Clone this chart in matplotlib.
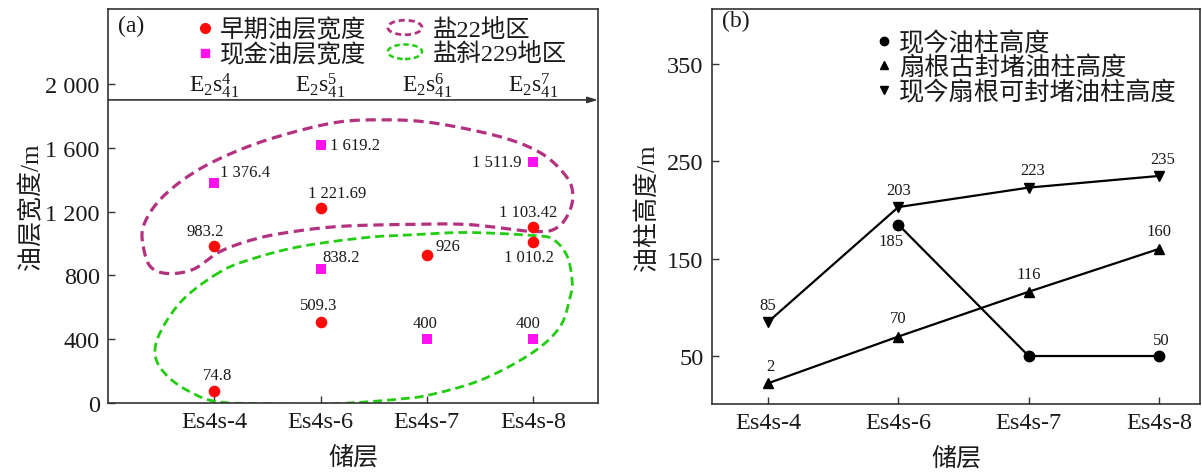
import numpy as np
import matplotlib
matplotlib.use("Agg")
import matplotlib.pyplot as plt
import matplotlib.patches as mpatches
from matplotlib.lines import Line2D
from matplotlib.legend_handler import HandlerPatch

plt.rcParams['font.family'] = ['Liberation Serif', 'Noto Sans CJK SC', 'DejaVu Sans']
plt.rcParams['mathtext.fontset'] = 'custom'
plt.rcParams['mathtext.rm'] = 'Liberation Serif'
plt.rcParams['mathtext.it'] = 'Liberation Serif:italic'
plt.rcParams['axes.unicode_minus'] = False

# ---------------- data ----------------
categories = ['Es4s-4', 'Es4s-6', 'Es4s-7', 'Es4s-8']
layer_labels = [r'E$_2$s$_{41}^{4}$', r'E$_2$s$_{41}^{5}$', r'E$_2$s$_{41}^{6}$', r'E$_2$s$_{41}^{7}$']

early_cat = ['Es4s-4', 'Es4s-4', 'Es4s-6', 'Es4s-6', 'Es4s-7', 'Es4s-8', 'Es4s-8']
early_width = [983.2, 74.8, 1221.69, 509.3, 926, 1103.42, 1010.2]

current_cat = ['Es4s-4', 'Es4s-6', 'Es4s-6', 'Es4s-7', 'Es4s-8', 'Es4s-8']
current_width = [1376.4, 1619.2, 838.2, 400, 1511.9, 400]

a_yticks = [0, 400, 800, 1200, 1600, 2000]

# approximate region outlines (category index, width)
yan22_x = [-0.668, -0.602, -0.442, -0.198, 0.056, 0.367, 0.687, 1.157, 1.750, 2.380, 3.001,
           3.227, 3.349, 3.368, 3.283, 3.067, 2.690, 2.060, 1.590, 1.119, 0.499, 0.028,
           -0.292, -0.536, -0.668]
yan22_y = [981, 856, 812, 838, 950, 1025, 1069, 1106, 1119, 1119, 1075,
           1100, 1213, 1338, 1444, 1569, 1669, 1756, 1775, 1756, 1650, 1525,
           1400, 1256, 1106]

yanxie229_x = [0.05, -0.292, -0.508, -0.555, -0.442, -0.226, 0.028, 0.499, 1.119, 1.750,
               2.060, 2.531, 3.001, 3.255, 3.349, 3.368, 3.321, 3.189, 3.001, 2.380,
               1.910, 1.439, 0.809, 0.339]
yanxie229_y = [820, 650, 444, 294, 169, 69, 8, -5, -5, 25,
               56, 150, 319, 481, 669, 756, 919, 1025, 1050, 1069,
               1056, 1038, 981, 900]

present_cat = ['Es4s-6', 'Es4s-7', 'Es4s-8']
present_h = [185, 50, 50]
present_lbl = ['185', '', '50']

paleo_h = [22, 70, 116, 160]
paleo_lbl = ['2', '70', '116', '160']

seal_h = [85, 203, 223, 235]
seal_lbl = ['85', '203', '223', '235']

b_yticks = [50, 150, 250, 350]

# ---------------- helpers ----------------
def fmt_num(v):
    s = str(v)
    if '.' in s:
        ip, dp = s.split('.')
    else:
        ip, dp = s, None
    if len(ip) > 3:
        ip = ip[:-3] + ' ' + ip[-3:]
    return ip if dp is None else ip + '.' + dp


def closed_spline(xs, ys, n=30):
    P = np.column_stack([xs, ys]).astype(float)
    if np.allclose(P[0], P[-1]):
        P = P[:-1]
    m = len(P)
    out = []
    t = np.linspace(0, 1, n, endpoint=False)[:, None]
    for i in range(m):
        p0, p1, p2, p3 = P[(i - 1) % m], P[i], P[(i + 1) % m], P[(i + 2) % m]
        seg = 0.5 * (2 * p1 + (-p0 + p2) * t + (2 * p0 - 5 * p1 + 4 * p2 - p3) * t ** 2
                     + (-p0 + 3 * p1 - 3 * p2 + p3) * t ** 3)
        out.append(seg)
    out = np.vstack(out)
    out = np.vstack([out, out[:1]])
    return out[:, 0], out[:, 1]


class HandlerEllipse(HandlerPatch):
    def create_artists(self, legend, orig_handle, xdescent, ydescent, width, height, fontsize, trans):
        center = (0.5 * width - xdescent, 0.5 * height - ydescent)
        p = mpatches.Ellipse(xy=center, width=width, height=height * 0.85)
        self.update_prop(p, orig_handle, legend)
        p.set_transform(trans)
        return [p]


TXT = '#1a1a1a'
SPINE = '#333333'
RED = '#ff0a0a'
MAG = '#ff10ee'
PURPLE = '#b3327f'
GREEN = '#22cc11'

fig = plt.figure(figsize=(12.02, 4.77), dpi=100)
axa = fig.add_axes([108 / 1202, 73 / 477, 490 / 1202, 394 / 477])
axb = fig.add_axes([712 / 1202, 72 / 477, 488 / 1202, 395 / 477])

for ax in (axa, axb):
    for s in ax.spines.values():
        s.set_color(SPINE)
        s.set_linewidth(1.2)
    ax.tick_params(direction='in', length=5, width=1.0, color=SPINE, labelsize=17.5,
                   labelcolor=TXT, pad=6)

# ---------------- panel (a) ----------------
xi = {c: i for i, c in enumerate(categories)}
ex = [xi[c] for c in early_cat]
cx = [xi[c] for c in current_cat]

dash = (0, (3.2, 1.8))
ox, oy = closed_spline(yan22_x, yan22_y)
axa.plot(ox, oy, color=PURPLE, lw=2.3, linestyle=dash, zorder=2)
ox, oy = closed_spline(yanxie229_x, yanxie229_y)
axa.plot(ox, oy, color=GREEN, lw=2.0, linestyle=dash, zorder=2)

axa.scatter(ex, early_width, s=70, marker='o', color=RED, zorder=3, linewidths=0)
axa.scatter(cx, current_width, s=58, marker='s', color=MAG, zorder=3, linewidths=0)

early_off = [(-6.5, 11), (2, 11.5), (12, 11), (-1.5, 12), (15, 7), (-3.5, 11), (-3, -11)]
current_off = [(22, 8.5), (24.5, 0), (15, 8.5), (-1.5, 12), (-26, 0), (-3.5, 12)]
for x, v, o in zip(ex, early_width, early_off):
    axa.annotate(fmt_num(v), (x, v), xytext=o, textcoords='offset points',
                 ha='center', va='center', fontsize=12, color=TXT)
for x, v, o in zip(cx, current_width, current_off):
    axa.annotate(fmt_num(v), (x, v), xytext=o, textcoords='offset points',
                 ha='center', va='center', fontsize=12, color=TXT)

axa.set_xlim(-1.0, 3.61)
axa.set_ylim(0, 2470)
axa.set_xticks(range(len(categories)))
axa.set_xticklabels(categories)
axa.set_yticks(a_yticks)
axa.set_yticklabels([fmt_num(v) for v in a_yticks])
axa.set_xlabel('储层', fontsize=18, color=TXT, labelpad=9)
axa.set_ylabel('油层宽度/m', fontsize=18, color=TXT, labelpad=1)

# top stratigraphic arrow + labels
axa.annotate('', xy=(1.0, 1900), xytext=(0.0, 1900),
             xycoords=axa.get_yaxis_transform(), textcoords=axa.get_yaxis_transform(),
             arrowprops=dict(arrowstyle='-|>,head_length=0.6,head_width=0.18', color=SPINE,
                             lw=1.2, shrinkA=0, shrinkB=0))
for i, lab in enumerate(layer_labels):
    axa.text(i, 1956, lab, ha='center', va='baseline', fontsize=17, color=TXT)

axa.text(0.02, 0.957, '(a)', transform=axa.transAxes, fontsize=17, color=TXT,
         ha='left', va='center')

h1 = [Line2D([], [], marker='o', color=RED, linestyle='none', markersize=7),
      Line2D([], [], marker='s', color=MAG, linestyle='none', markersize=6)]
leg1 = axa.legend(h1, ['早期油层宽度', '现金油层宽度'], loc='upper left',
                  bbox_to_anchor=(0.184, 0.977), frameon=False, fontsize=17.6,
                  handlelength=0.6, handletextpad=0.3, labelspacing=0.05, borderpad=0,
                  borderaxespad=0)
for t in leg1.get_texts():
    t.set_color(TXT)
axa.add_artist(leg1)
h2 = [mpatches.Ellipse((0, 0), 1, 1, fill=False, edgecolor=PURPLE, lw=2.0, linestyle=(0, (2.2, 1.4))),
      mpatches.Ellipse((0, 0), 1, 1, fill=False, edgecolor=GREEN, lw=1.8, linestyle=(0, (2.2, 1.4)))]
leg2 = axa.legend(h2, ['盐22地区', '盐斜229地区'], loc='upper left',
                  bbox_to_anchor=(0.571, 0.977), frameon=False, fontsize=17.6,
                  handlelength=1.4, handletextpad=0.45, labelspacing=0.05, borderpad=0,
                  borderaxespad=0, handler_map={mpatches.Ellipse: HandlerEllipse()})
for t in leg2.get_texts():
    t.set_color(TXT)

# ---------------- panel (b) ----------------
bx_all = list(range(len(categories)))
px = [xi[c] for c in present_cat]

axb.plot(px, present_h, color='black', lw=1.6, marker='o', markersize=7.5, zorder=3)
axb.plot(bx_all, paleo_h, color='black', lw=1.6, marker='^', markersize=7, zorder=3)
axb.plot(bx_all, seal_h, color='black', lw=1.6, marker='v', markersize=7, zorder=3)

seal_off = [(0, 12), (0, 12.5), (3, 12.5), (3, 12.5)]
paleo_off = [(2, 12.5), (0, 13), (0, 13), (0, 13)]
present_off = [(-5, -11.5), (0, 12), (2, 11.5)]
for x, v, l, o in zip(bx_all, seal_h, seal_lbl, seal_off):
    axb.annotate(l, (x, v), xytext=o, textcoords='offset points', ha='center', va='center',
                 fontsize=12, color=TXT)
for x, v, l, o in zip(bx_all, paleo_h, paleo_lbl, paleo_off):
    axb.annotate(l, (x, v), xytext=o, textcoords='offset points', ha='center', va='center',
                 fontsize=12, color=TXT)
for x, v, l, o in zip(px, present_h, present_lbl, present_off):
    if l:
        axb.annotate(l, (x, v), xytext=o, textcoords='offset points', ha='center', va='center',
                     fontsize=12, color=TXT)

axb.set_xlim(-0.43, 3.315)
axb.set_ylim(0.7, 406.5)
axb.set_xticks(bx_all)
axb.set_xticklabels(categories)
axb.set_yticks(b_yticks)
axb.set_xlabel('储层', fontsize=18, color=TXT, labelpad=9)
axb.set_ylabel('油柱高度/m', fontsize=18, color=TXT, labelpad=6)
axb.text(0.02, 0.97, '(b)', transform=axb.transAxes, fontsize=17, color=TXT,
         ha='left', va='center')

hb = [Line2D([], [], marker='o', color='black', linestyle='none', markersize=6),
      Line2D([], [], marker='^', color='black', linestyle='none', markersize=5.5),
      Line2D([], [], marker='v', color='black', linestyle='none', markersize=5.5)]
legb = axb.legend(hb, ['现今油柱高度', '扇根古封堵油柱高度', '现今扇根可封堵油柱高度'],
                  loc='upper left', bbox_to_anchor=(0.336, 0.945), frameon=False, fontsize=18.2,
                  handlelength=0.6, handletextpad=0.3, labelspacing=0.02, borderpad=0,
                  borderaxespad=0)
for t in legb.get_texts():
    t.set_color(TXT)

fig.savefig('out.png', dpi=100)
